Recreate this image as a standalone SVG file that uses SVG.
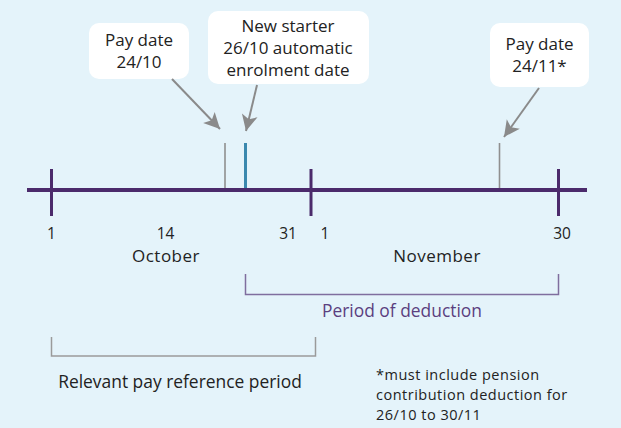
<svg xmlns="http://www.w3.org/2000/svg" width="621" height="428" viewBox="0 0 621 428">
<style>
text{font-family:"Open Sans","Noto Sans","Liberation Sans",sans-serif;fill:#222}
.box{fill:#fff}
.lbl{font-size:17px;text-anchor:middle}
.mon{font-size:17px;letter-spacing:0.5px;text-anchor:middle}
.ax{font-size:15.5px;text-anchor:middle}
.per{font-size:17.4px;text-anchor:middle}
.note{font-size:14.5px;letter-spacing:0.5px}
.arrow{stroke:#8a8a8a;stroke-width:2;fill:none}
.axis{stroke:#4b2a6b;stroke-width:4}
.tick{stroke:#4b2a6b;stroke-width:3}
</style>
<defs>
<marker id="ah" markerUnits="userSpaceOnUse" markerWidth="20" markerHeight="20" viewBox="0 0 20 20" refX="18" refY="10" orient="auto">
<path d="M18,10 L2,2 L6,10 L2,18 Z" fill="#8a8a8a"/>
</marker>
</defs>
<rect width="621" height="428" fill="#e4f3fa"/>
<g id="timeline">
<line class="axis" x1="27" y1="190" x2="587" y2="190"/>
<line class="tick" x1="51.5" y1="169" x2="51.5" y2="216"/>
<line class="tick" x1="311" y1="169" x2="311" y2="216"/>
<line class="tick" x1="558.5" y1="169" x2="558.5" y2="216"/>
<line x1="225" y1="143" x2="225" y2="188" stroke="#8f8f8f" stroke-width="1.6"/>
<line x1="245.5" y1="143" x2="245.5" y2="188" stroke="#3a88ae" stroke-width="3"/>
<line x1="499.5" y1="143" x2="499.5" y2="188" stroke="#8f8f8f" stroke-width="1.6"/>
<text class="ax" x="51.5" y="239">1</text>
<text class="ax" x="165.5" y="239">14</text>
<text class="ax" x="288" y="239">31</text>
<text class="ax" x="325" y="239">1</text>
<text class="ax" x="562" y="239">30</text>
<text class="mon" x="166" y="262">October</text>
<text class="mon" x="437" y="262">November</text>
</g>
<g id="callout-pay-1024">
<rect class="box" x="89" y="23" width="100" height="56" rx="10"/>
<text class="lbl" x="139" y="46">Pay date</text>
<text class="lbl" x="139" y="68">24/10</text>
</g>
<g id="callout-new-starter">
<rect class="box" x="208" y="11" width="161" height="73" rx="10"/>
<text class="lbl" x="288" y="32">New starter</text>
<text class="lbl" x="288" y="54">26/10 automatic</text>
<text class="lbl" x="288" y="76">enrolment date</text>
</g>
<g id="callout-pay-2411">
<rect class="box" x="490" y="23" width="99" height="64" rx="10"/>
<text class="lbl" x="539.5" y="50">Pay date</text>
<text class="lbl" x="539.5" y="72">24/11*</text>
</g>
<g id="connectors">
<line class="arrow" x1="172" y1="79" x2="220" y2="129" marker-end="url(#ah)"/>
<line class="arrow" x1="257" y1="85" x2="246" y2="131" marker-end="url(#ah)"/>
<line class="arrow" x1="539" y1="88" x2="504" y2="137" marker-end="url(#ah)"/>
</g>
<g id="period-of-deduction">
<path d="M245.5,274 V294.5 H558.5 V274" fill="none" stroke="#7f6e9e" stroke-width="1.5"/>
<text class="per" x="402" y="317" style="fill:#5b3f7f">Period of deduction</text>
</g>
<g id="relevant-pay-reference-period">
<path d="M51.5,337 V356 H315.5 V337" fill="none" stroke="#9a9a9a" stroke-width="1.5"/>
<text class="per" x="180" y="388">Relevant pay reference period</text>
</g>
<g id="footnote">
<text class="note" x="376" y="379.5">*must include pension</text>
<text class="note" x="376" y="399.5">contribution deduction for</text>
<text class="note" x="376" y="419.5">26/10 to 30/11</text>
</g>
</svg>
